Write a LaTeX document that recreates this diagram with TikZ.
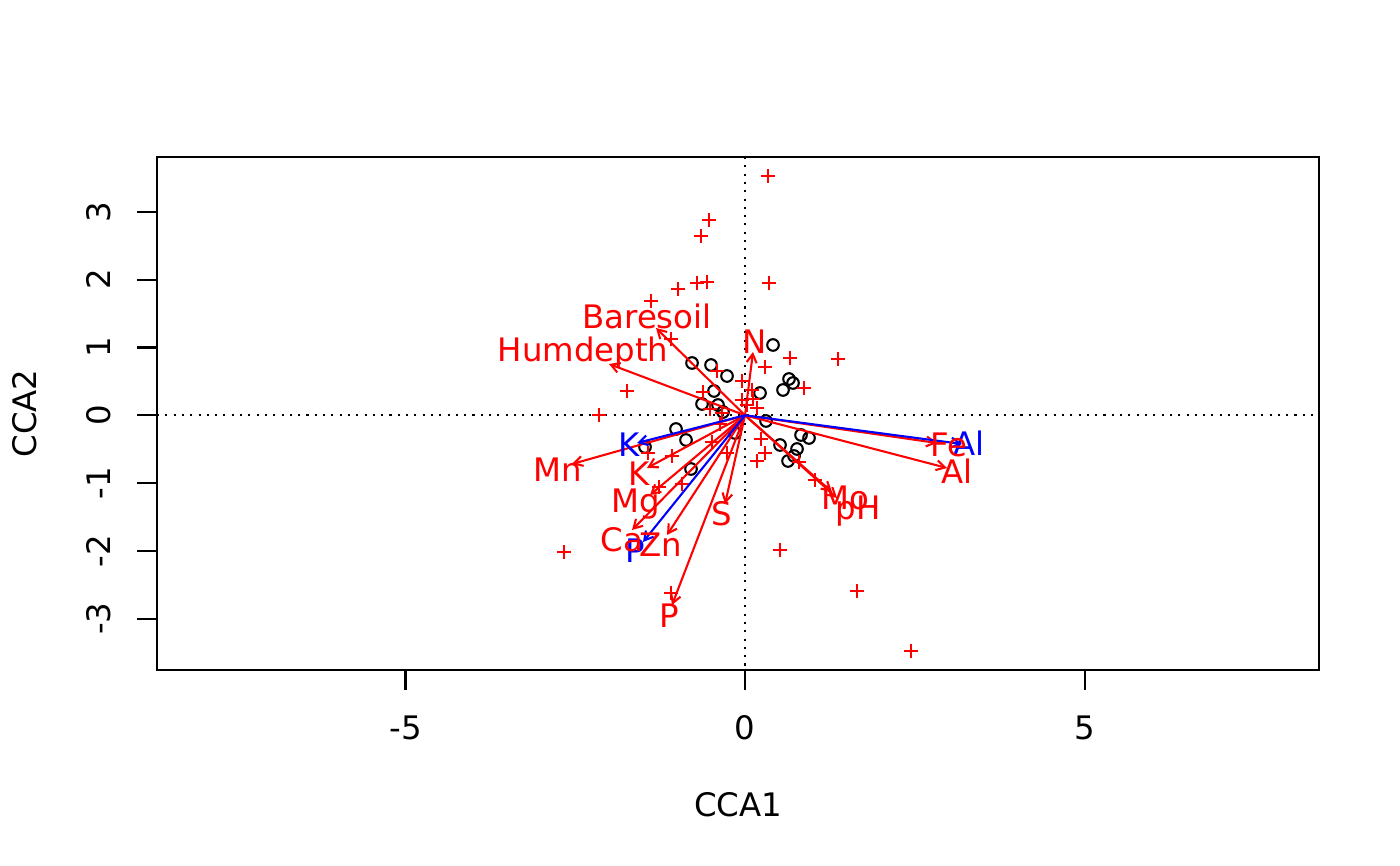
\documentclass[tikz,border=0pt]{standalone}
\usepackage{fontspec}
\setmainfont{DejaVu Sans}
\usetikzlibrary{arrows.meta}
\definecolor{rred}{RGB}{255,0,0}
\definecolor{bblue}{RGB}{0,0,255}
\begin{document}
\begin{tikzpicture}[x=0.36135pt,y=-0.36135pt,
  font=\fontsize{11.7}{13}\selectfont,
  lw/.style={line width=0.75pt},
  axisline/.style={lw, draw=black},
  zeroline/.style={lw, draw=black, dash pattern=on 0.75pt off 2.25pt},
  redarr/.style={lw, draw=rred, -{Straight Barb[length=3.13pt,width=3.6pt]}},
  bluearr/.style={lw, draw=bblue, -{Straight Barb[length=3.13pt,width=3.6pt]}},
  redlab/.style={text=rred, anchor=base, inner sep=0pt},
  bluelab/.style={text=bblue, anchor=base, inner sep=0pt},
  ticklab/.style={anchor=center, inner sep=0pt},
  sitept/.style={lw, draw=black},
  sppt/.style={lw, draw=rred}]
\fill[white] (0,0) rectangle (1400,866);
\useasboundingbox (0,0) rectangle (1400,866);

% zero lines
\coordinate (vtop) at (745,157);
\coordinate (vbot) at (745,670);
\coordinate (hl) at (157,415.3);
\coordinate (hr) at (1319,415.3);
\draw[zeroline] (vtop) -- (vbot);
\draw[zeroline] (hl) -- (hr);

% sites
\foreach \x/\y in {773/345,692/363,711/365,727/376,789/379,793/383,783/390,760/393,
  714/391,702/404,718/405,723/412,766/421,676/429,686/440,735/433,801/435,809/438,
  780/445,797/449,794/456,788/461,691/469,645/447}
  \draw[sitept] (\x,\y) circle[radius=5.8];

% species
\foreach \x/\y in {768/176,709/220,701/236,678/289,697/283,707/282,769/283,651/301,
  671/339,790/358,838/359,627/391,599/415,765/367,804/388,717/371,742/381,703/392,
  752/390,742/400,753/399,757/408,747/405,710/409,722/413,720/424,
  712/442,727/453,672/456,648/453,659/487,682/484,564/552,780/550,857/591,911/651,
  671/593,815/480,799/462,761/439,765/453,757/461}
  \draw[sppt] (\x-7.2,\y) -- (\x+7.2,\y) (\x,\y-7.2) -- (\x,\y+7.2);

% arrows
\coordinate (O) at (745,415.3);
\coordinate (tHum) at (609,364);
\coordinate (tBare) at (656,328);
\coordinate (tN) at (753,352);
\coordinate (tFe) at (937,443);
\coordinate (tAl) at (947,468);
\coordinate (tMo) at (832,492);
\coordinate (tpH) at (837,498);
\coordinate (tS) at (725,504);
\coordinate (tP) at (672,605);
\coordinate (tZn) at (667,535);
\coordinate (tCa) at (632,530);
\coordinate (tMg) at (650,495);
\coordinate (tK) at (647,468);
\coordinate (tMn) at (572,464);
\coordinate (bK) at (637,443);
\coordinate (bP) at (643,542);
\coordinate (bAl) at (962,444);
\foreach \t in {tHum,tBare,tN,tFe,tAl,tMo,tpH,tS,tP,tZn,tCa,tMg,tK,tMn}
  \draw[redarr] (O) -- (\t);
\foreach \t in {bK,bP,bAl}
  \draw[bluearr] (O) -- (\t);

% blue labels
\node[bluelab] (lbK) at (629.5,457) {K};
\node[bluelab] (lbP) at (635,563) {P};
\node[bluelab] (lbAl) at (969,456) {Al};

% red labels
\node[redlab] (lBare) at (647,329) {Baresoil};
\node[redlab] (lHum) at (583,362) {Humdepth};
\node[redlab] (lN) at (755,354) {N};
\node[redlab] (lFe) at (949,457) {Fe};
\node[redlab] (lAl) at (957,484) {Al};
\node[redlab] (lMo) at (845,510) {Mo};
\node[redlab] (lpH) at (858,520) {pH};
\node[redlab] (lS) at (721.5,526) {S};
\node[redlab] (lP) at (669.5,628) {P};
\node[redlab] (lZn) at (661,557) {Zn};
\node[redlab] (lCa) at (622,552) {Ca};
\node[redlab] (lMg) at (636,513) {Mg};
\node[redlab] (lK) at (639,486) {K};
\node[redlab] (lMn) at (557.5,482) {Mn};

% box
\draw[axisline] (157.3,156.7) rectangle (1319.3,669.7);

% x ticks
\foreach \v/\p in {-5/405.5,0/745,5/1085}{
  \draw[axisline] (\p,669.7) -- (\p,689.7);
  \node[ticklab] (xt\v) at (\p,728) {\v};
}
% y ticks
\foreach \v/\p in {-3/618.7,-2/550.9,-1/483.1,0/415.3,1/347.5,2/279.7,3/211.9}{
  \draw[axisline] (157.3,\p) -- (137.3,\p);
  \node[ticklab, rotate=90] (yt\v) at (98.5,\p) {\v};
}
\node[ticklab] (xlab) at (738,805) {CCA1};
\node[ticklab, rotate=90] (ylab) at (25,413.5) {CCA2};
\end{tikzpicture}
\end{document}
